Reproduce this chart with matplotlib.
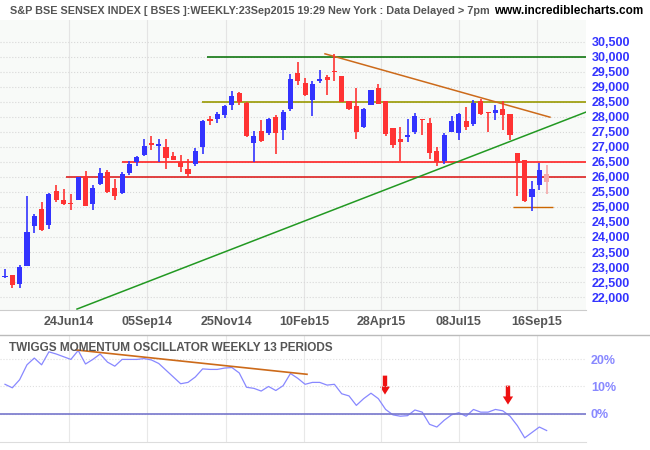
import matplotlib.pyplot as plt
import numpy as np

plt.rcParams['font.family'] = ['Liberation Sans', 'DejaVu Sans']

# weekly candles: open, high, low, close
opens = [22680, 22744, 22444, 23044, 24356, 24944, 24389, 25544, 25244, 25130,
         25222, 26044, 25111, 25778, 26178, 25633, 25467, 26133, 26511, 26744,
         27133, 27022, 27000, 26711, 26489, 26278, 26433, 26989, 27944, 27944,
         28056, 28411, 28800, 28456, 27133, 27522, 27467, 27989, 27556, 28278,
         29467, 29144, 28578, 29189, 29333, 29544, 29356, 28544, 28356, 27667,
         28389, 28967, 28544, 27633, 27278, 27344, 27500, 27922, 27800, 26878,
         26533, 27500, 27478, 27878, 27756, 28544, 28156, 28122, 28278, 28111,
         26800, 26556, 25322, 25722, 26111]
closes = [22700, 22411, 23000, 24156, 24711, 24222, 25433, 25244, 25111, 25100,
          26000, 25044, 25644, 26133, 25511, 25356, 26111, 26444, 26667, 27044,
          27078, 27111, 26644, 26578, 26333, 26111, 26878, 27878, 27878, 28089,
          28356, 28711, 28489, 27356, 27378, 27211, 27933, 27467, 28156, 29278,
          29211, 28744, 29111, 29256, 29244, 29489, 28500, 28278, 27489, 28278,
          28889, 28433, 27444, 27056, 27167, 27389, 28022, 27889, 26800, 26489,
          27411, 27867, 28111, 27678, 28478, 28111, 28133, 28244, 28078, 27389,
          26467, 25200, 25611, 26244, 25844]
highs = [22933, 22750, 23078, 25378, 24778, 25178, 25450, 25744, 25611, 25444,
         26000, 26211, 25744, 26311, 26222, 25944, 26150, 26520, 26711, 27267,
         27378, 27278, 27278, 26822, 26722, 26611, 26956, 27911, 28020, 28160,
         28400, 28856, 28830, 28500, 27520, 27889, 27960, 28070, 28220, 29422,
         29844, 29290, 29180, 29556, 29380, 30078, 29360, 28544, 28967, 28310,
         28910, 29111, 28544, 27633, 27656, 27922, 28130, 27922, 27978, 27000,
         27470, 28030, 28130, 28344, 28578, 28580, 28156, 28380, 28522, 28111,
         26800, 26556, 25867, 26478, 26400]
lows = [22633, 22300, 22300, 23044, 24133, 24190, 24278, 25178, 25080, 24911,
        25222, 25022, 24911, 25720, 25467, 25240, 25440, 26080, 26356, 26700,
        26911, 26489, 26267, 26578, 26167, 25956, 26380, 26756, 27744, 27790,
        27960, 28240, 28400, 27330, 26489, 27180, 27380, 26778, 27222, 28210,
        29078, 28680, 28044, 29120, 28733, 29189, 28500, 28240, 27278, 27630,
        28380, 28420, 27356, 26967, 26522, 27180, 27440, 27389, 26600, 26378,
        26440, 27480, 27220, 27560, 27680, 28070, 27500, 27889, 27567, 27244,
        25378, 25156, 24856, 25556, 25422]

# Twiggs momentum oscillator (%)
twiggs = [10.8, 9.5, 12.5, 18, 20.5, 18, 22.8, 22, 21, 20,
          23.3, 18.3, 20, 22, 19, 17.5, 20, 20, 20, 20.3,
          19.8, 18.5, 16, 13.5, 11, 11.5, 13.5, 16.5, 16.3, 16.3,
          16.8, 17, 15, 9.7, 9.3, 8.3, 10, 8.5, 10.3, 14.8,
          13, 10.8, 11.5, 11.5, 10.5, 10.8, 7.3, 6.5, 3, 5.5,
          7.5, 5.5, 1.5, -0.5, -1, -0.8, 1.3, 0.5, -4, -5,
          -2.5, -0.5, 0.3, -1, 1.5, 0.5, 0.5, 1.5, 1, -1,
          -4.5, -9, -7, -5, -6.3]

tick_pos = [8.7, 19.4, 30.2, 40.9, 51.4, 62.0, 72.7]
tick_labels = ['24Jun14', '05Sep14', '25Nov14', '10Feb15', '28Apr15', '08Jul15', '16Sep15']


def px(x):
    # pixel column -> week index
    return (x - 5) / 7.32


bg = '#f8faf8'
fig = plt.figure(figsize=(6.5, 4.5), dpi=100)
fig.patch.set_facecolor('white')
ax = fig.add_axes([0.0, 0.311, 0.9015, 0.645])
ax2 = fig.add_axes([0.0, 0.018, 0.9015, 0.238])

n = len(opens)
idx = np.arange(n)
for i in idx:
    o, c, h, l = opens[i], closes[i], highs[i], lows[i]
    col = '#3333ff' if c >= o else '#ff3333'
    if i == n - 1:
        col = '#f4a8a8'
    ax.vlines(i, l, h, color=col, lw=1.2, zorder=3)
    lo, hi = min(o, c), max(o, c)
    ax.bar(i, max(hi - lo, 25), bottom=lo, width=0.7, color=col, zorder=4)

ax.set_xlim(px(0), px(586))
ax.set_ylim(21567, 31233)
ax.set_facecolor(bg)
ax.yaxis.tick_right()
ax.set_yticks(np.arange(22000, 30501, 500))
ax.set_yticklabels([f'{v:,}' for v in range(22000, 30501, 500)],
                   color='#3333ff', fontweight='bold', fontsize=9)
ax.set_xticks(tick_pos)
ax.set_xticklabels(tick_labels, color='#555555', fontweight='bold', fontsize=9)
ax.tick_params(length=0, pad=4)
ax.grid(True, color='#d8d8d8', ls=':', lw=0.8)
ax.grid(True, axis='x', color='#e4e4e4', ls='-', lw=0.8)
for s in ax.spines.values():
    s.set_visible(False)
ax.spines['bottom'].set_visible(True)
ax.spines['bottom'].set_color('#cccccc')

# support / resistance and trend lines
ax.hlines(30000, px(207), px(586), color='#117711', lw=1.2, zorder=2)
ax.hlines(28500, px(202), px(586), color='#999900', lw=1.2, zorder=2)
ax.hlines(26500, px(122), px(586), color='#ff2222', lw=1.2, zorder=2)
ax.hlines(26000, px(66), px(586), color='#dd2222', lw=1.2, zorder=2)
ax.hlines(25000, px(513), px(553), color='#cc6600', lw=1.0, zorder=2)
ax.plot([px(325), px(550)], [30100, 27990], color='#cc6a1a', lw=1.1, zorder=2)
ax.plot([px(77), px(586)], [21600, 28160], color='#229922', lw=1.1, zorder=2)

fig.text(0.015, 0.975, 'S&P BSE SENSEX INDEX [ BSES ]:WEEKLY:23Sep2015 19:29 New York : Data Delayed > 7pm',
         fontsize=7.8, fontweight='bold', color='#555555', va='center')
fig.text(0.99, 0.975, 'www.incrediblecharts.com', fontsize=8.5, fontweight='bold',
         color='black', va='center', ha='right')

# oscillator panel
ax2.plot(idx, twiggs, color='#8888ff', lw=0.9)
ax2.axhline(0, color='#7777cc', lw=1.2)
ax2.plot([px(76), px(307)], [23.5, 14.5], color='#cc6a1a', lw=1.2)
for xa, ytop in [(385, 14), (508, 10.3)]:
    ax2.arrow(px(xa), ytop, 0, -7, width=0.6, head_width=1.4, head_length=3.0,
              length_includes_head=True, color='#ee1111', lw=0)
ax2.set_xlim(px(0), px(586))
ax2.set_ylim(-10.5, 29.1)
ax2.set_facecolor('white')
ax2.yaxis.tick_right()
ax2.set_yticks([0, 10, 20])
ax2.set_yticklabels(['0%', '10%', '20%'], color='#8888ff', fontweight='bold', fontsize=9)
ax2.set_xticks(tick_pos)
ax2.set_xticklabels([])
ax2.tick_params(length=0)
ax2.grid(True, color='#e0e0e0', ls=':', lw=0.8)
ax2.grid(True, axis='x', color='#e8e8e8', ls='-', lw=0.8)
for s in ax2.spines.values():
    s.set_visible(False)
ax2.spines['bottom'].set_visible(True)
ax2.spines['bottom'].set_color('#dddddd')
ax2.text(0.015, 0.93, 'TWIGGS MOMENTUM OSCILLATOR WEEKLY 13 PERIODS', transform=ax2.transAxes,
         fontsize=8.5, fontweight='bold', color='#555555', va='top')
fig.add_artist(plt.Line2D([0, 1], [0.256, 0.256], color='#bbbbbb', lw=1))

fig.savefig('out.png', dpi=100)
